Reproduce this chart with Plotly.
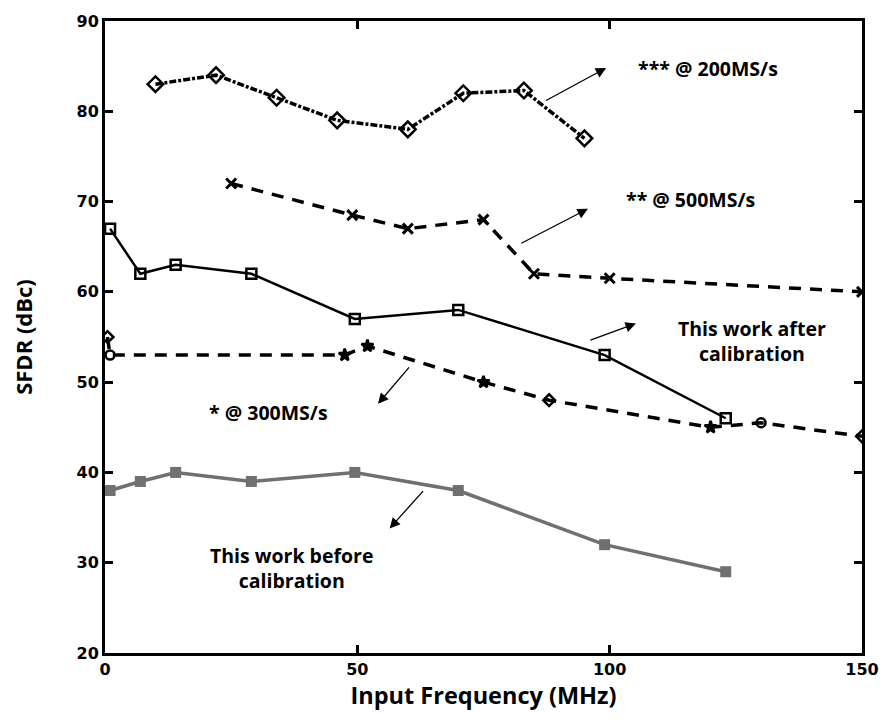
import plotly.graph_objects as go

# ---- data ----
after_x = [1, 7, 14, 29, 49.5, 70, 99, 123]
after_y = [67, 62, 63, 62, 57, 58, 53, 46]

before_x = [1, 7, 14, 29, 49.5, 70, 99, 123]
before_y = [38, 39, 40, 39, 40, 38, 32, 29]

s300_x = [0.5, 1, 47.5, 52, 75, 88, 120, 130, 150]
s300_y = [55, 53, 53, 54, 50, 48, 45, 45.5, 44]

s500_x = [25, 49, 60, 75, 85, 100, 150]
s500_y = [72, 68.5, 67, 68, 62, 61.5, 60]

s200_x = [10, 22, 34, 46, 60, 71, 83, 95]
s200_y = [83, 84, 81.5, 79, 78, 82, 82.3, 77]

x_ticks = [0, 50, 100, 150]
y_ticks = [20, 30, 40, 50, 60, 70, 80, 90]

GRAY = "#707070"
FAM = "'Open Sans', 'Noto Sans', sans-serif"
TXT = dict(family=FAM, size=19.5, color="black")

fig = go.Figure()

fig.add_trace(go.Scatter(
    x=s200_x, y=s200_y, mode="lines+markers",
    line=dict(color="black", width=3.5, dash="7px,2px,3px,2px"),
    marker=dict(symbol="diamond-open", size=12, color="black", line=dict(width=2.5)),
    showlegend=False))

fig.add_trace(go.Scatter(
    x=s500_x, y=s500_y, mode="lines+markers",
    line=dict(color="black", width=3.5, dash="12px,9px"),
    marker=dict(symbol="x-thin-open", size=10, color="black", line=dict(width=3, color="black")),
    showlegend=False))

fig.add_trace(go.Scatter(
    x=s300_x, y=s300_y, mode="lines+markers",
    line=dict(color="black", width=3.5, dash="12px,9px"),
    marker=dict(symbol=["diamond-open", "circle-open", "star", "star", "star",
                        "diamond-open", "star", "circle-open", "diamond-open"],
                size=9, color="black", line=dict(width=2.5, color="black")),
    showlegend=False))

fig.add_trace(go.Scatter(
    x=after_x, y=after_y, mode="lines+markers",
    line=dict(color="black", width=2.5),
    marker=dict(symbol="square-open", size=10, color="black", line=dict(width=2.5)),
    showlegend=False))

fig.add_trace(go.Scatter(
    x=before_x, y=before_y, mode="lines+markers",
    line=dict(color=GRAY, width=3.5),
    marker=dict(symbol="square", size=11, color=GRAY),
    showlegend=False))

# ---- annotations (text + arrows) ----
arrows = [
    (87.1, 81.1, 99.3, 84.8),
    (82.2, 65.3, 95.7, 69.2),
    (95.9, 54.6, 105.2, 56.5),
    (60.5, 51.8, 54.1, 47.6),
    (63.3, 38.1, 56.4, 33.8),
]
for tx, ty, hx, hy in arrows:
    fig.add_annotation(x=hx, y=hy, ax=tx, ay=ty, xref="x", yref="y",
                       axref="x", ayref="y", text="", showarrow=True,
                       arrowhead=2, arrowsize=1.6, arrowwidth=1.3, arrowcolor="black")

labels = [
    (119.5, 84.7, "*** @ 200MS/s"),
    (116.0, 70.2, "** @ 500MS/s"),
    (128.2, 54.6, "This work after<br>calibration"),
    (32.4, 46.6, "* @ 300MS/s"),
    (37.0, 29.4, "This work before<br>calibration"),
]
for lx, ly, t in labels:
    lines = t.split("<br>")
    fig.add_annotation(x=lx, y=ly, xref="x", yref="y",
                       text="<br>".join("<b>%s</b>" % s for s in lines),
                       showarrow=False, font=TXT, align="center")

axis_common = dict(showgrid=False, zeroline=False, showline=True, linecolor="black",
                   linewidth=3, mirror="ticks", ticks="inside", ticklen=8,
                   tickwidth=2.5, tickcolor="black",
                   tickfont=dict(family="DejaVu Sans", size=16, color="black", weight="bold"))

fig.update_xaxes(range=[0, 150], tickvals=x_ticks, ticktext=[str(v) for v in x_ticks],
                 title=dict(text="<b>Input Frequency (MHz)</b>", standoff=2,
                            font=dict(family=FAM, size=23.5, color="black")),
                 **axis_common)
fig.update_yaxes(range=[20, 90], tickvals=y_ticks, ticktext=[str(v) for v in y_ticks],
                 title=dict(text="<b>SFDR (dBc)</b>", standoff=38,
                            font=dict(family=FAM, size=22, color="black")),
                 **axis_common)

fig.update_layout(width=891, height=728, plot_bgcolor="white", paper_bgcolor="white",
                  margin=dict(l=105, r=21, t=19, b=75))

fig.write_html("out.html")
